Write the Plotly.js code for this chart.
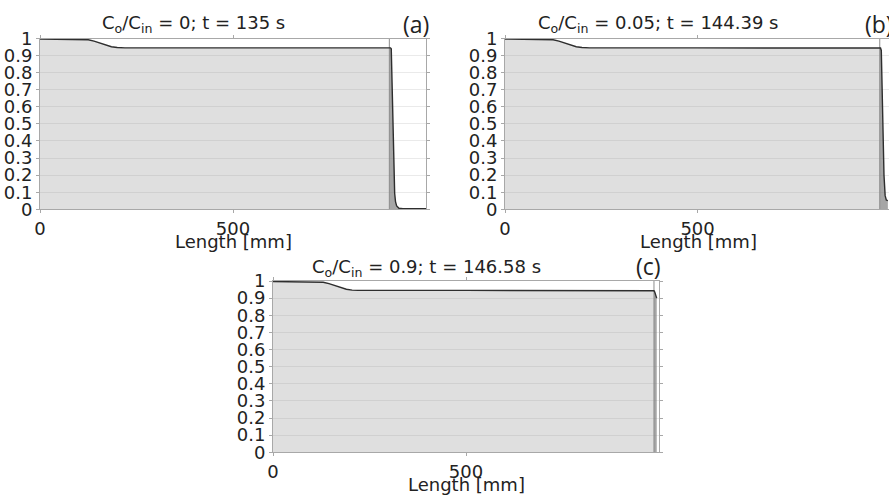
<!DOCTYPE html>
<html>
<head>
<meta charset="utf-8">
<script src="https://cdn.plot.ly/plotly-3.0.1.min.js"></script>
<style>html,body{margin:0;padding:0;background:#fff;}#chart{width:889px;height:498px;}</style>
</head>
<body>
<div id="chart"></div>
<script>
// ---- data ----
var xA = [0,110,125,140,155,170,185,200,220,500,800,905,908,910,913.6,916,918.8,921,924,930,940,1000];
var yA = [0.997,0.996,0.993,0.985,0.973,0.961,0.952,0.947,0.945,0.945,0.945,0.945,0.945,0.94,0.6,0.3,0.094,0.045,0.02,0.006,0.003,0.003];
var frontA = 905;

var xB = [0,110,125,140,155,170,185,200,220,500,800,970,975,977,980,984,987,990,994];
var yB = [0.997,0.996,0.993,0.985,0.973,0.961,0.952,0.947,0.945,0.945,0.945,0.945,0.944,0.93,0.6,0.2,0.08,0.055,0.05];
var frontB = 973;

var xC = [0,115,130,145,160,175,190,205,220,500,800,983,987,989,991,994];
var yC = [0.997,0.996,0.993,0.985,0.973,0.961,0.952,0.947,0.945,0.945,0.945,0.945,0.943,0.935,0.92,0.9];
var frontC = 987;

var titles = ["C<sub>o</sub>/C<sub>in</sub> = 0; t = 135 s",
              "C<sub>o</sub>/C<sub>in</sub> = 0.05; t = 144.39 s",
              "C<sub>o</sub>/C<sub>in</sub> = 0.9; t = 146.58 s"];
var panelLabels = ["(a)", "(b)", "(c)"];
var xTickVals = [0, 500];
var xTickText = ["0", "500"];
var yTickVals = [0,0.1,0.2,0.3,0.4,0.5,0.6,0.7,0.8,0.9,1];
var yTickText = ["0","0.1","0.2","0.3","0.4","0.5","0.6","0.7","0.8","0.9","1"];
var xTitle = "Length [mm]";

// ---- build traces ----
function interp(xs, ys, v){
  for (var i=0;i<xs.length-1;i++){
    if (v>=xs[i] && v<=xs[i+1]){
      var t=(v-xs[i])/(xs[i+1]-xs[i]); return ys[i]+t*(ys[i+1]-ys[i]);
    }
  }
  return ys[ys.length-1];
}
function panelTraces(xs, ys, front, xa, ya){
  var bx=[front], by=[interp(xs,ys,front)];
  for (var i=0;i<xs.length;i++){ if (xs[i]>front){ bx.push(xs[i]); by.push(ys[i]); } }
  return [
    {x:xs, y:ys, xaxis:xa, yaxis:ya, mode:'lines', line:{width:0, color:'rgba(0,0,0,0)'},
     fill:'tozeroy', fillcolor:'rgba(150,150,150,0.3)', hoverinfo:'skip'},
    {x:bx, y:by, xaxis:xa, yaxis:ya, mode:'lines', line:{width:0, color:'rgba(0,0,0,0)'},
     fill:'tozeroy', fillcolor:'rgba(110,110,110,0.5)', hoverinfo:'skip'},
    {x:[front,front], y:[0,1], xaxis:xa, yaxis:ya, mode:'lines', line:{width:1, color:'#8c8c8c'}, hoverinfo:'skip'},
    {x:xs, y:ys, xaxis:xa, yaxis:ya, mode:'lines', line:{width:1.4, color:'#2e2e2e'}, hoverinfo:'skip'}
  ];
}
var data = [].concat(
  panelTraces(xA, yA, frontA, 'x', 'y'),
  panelTraces(xB, yB, frontB, 'x2', 'y2'),
  panelTraces(xC, yC, frontC, 'x3', 'y3')
);

var W=889, H=498;
var font = {family:'DejaVu Sans', size:18, color:'#222'};
function xAxis(domain, range, anchor){
  return {domain:domain, range:range, anchor:anchor, tickmode:'array', tickvals:xTickVals, ticktext:xTickText,
    showgrid:false, zeroline:false, showline:true, linecolor:'#a8a8a8', linewidth:1, mirror:'ticks',
    ticks:'outside', ticklen:3, tickcolor:'#a8a8a8', tickfont:font, fixedrange:true};
}
function yAxis(domain, anchor){
  return {domain:domain, range:[0,1], anchor:anchor, tickmode:'array', tickvals:yTickVals, ticktext:yTickText,
    showgrid:true, gridcolor:'#eaeaea', zeroline:false, showline:true, linecolor:'#a8a8a8', linewidth:1, mirror:'ticks',
    ticks:'outside', ticklen:3, tickcolor:'#a8a8a8', tickfont:font, ticklabelstandoff:0, fixedrange:true};
}
var yTop = [1-209.3/H, 1-38.5/H];
var yBot = [1-452.3/H, 1-281/H];
function ann(text, px, py, f, anchor){
  return {text:text, x:px/W, y:1-py/H, xref:'paper', yref:'paper', showarrow:false,
          xanchor:anchor||'center', yanchor:'middle', font:f};
}
var labFont = {family:'Open Sans', size:23, color:'#222'};
var layout = {
  width:W, height:H, margin:{l:0,r:0,t:0,b:0}, paper_bgcolor:'#fff', plot_bgcolor:'#fff', showlegend:false,
  xaxis: xAxis([40/W, 426/W], [0,1000], 'y'),
  yaxis: yAxis(yTop, 'x'),
  xaxis2: xAxis([505/W, 1], [0,997], 'y2'),
  yaxis2: yAxis(yTop, 'x2'),
  xaxis3: xAxis([273/W, 659/W], [0,1000], 'y3'),
  yaxis3: yAxis(yBot, 'x3'),
  annotations: [
    ann(titles[0], 193.5, 24, font),
    ann(titles[1], 658, 24, font),
    ann(titles[2], 426, 268, font),
    ann(panelLabels[0], 416, 24, labFont),
    ann(panelLabels[1], 863, 24, labFont, 'left'),
    ann(panelLabels[2], 648, 266, labFont),
    ann(xTitle, 233, 241, font),
    ann(xTitle, 698, 241, font),
    ann(xTitle, 466, 484, font)
  ]
};
Plotly.newPlot('chart', data, layout, {displayModeBar:false, staticPlot:true});
</script>
</body>
</html>
